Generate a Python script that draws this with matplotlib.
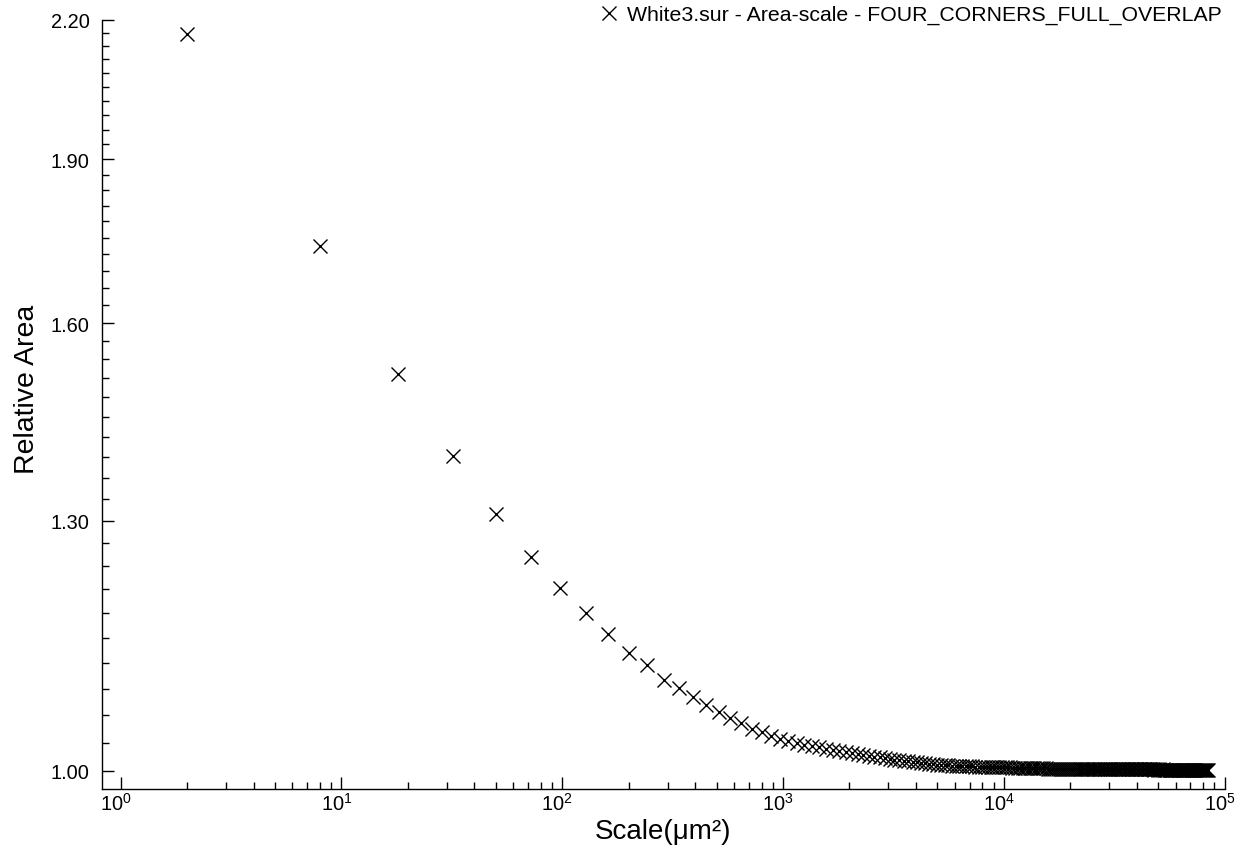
import matplotlib
matplotlib.use("Agg")
import matplotlib.pyplot as plt
from matplotlib.ticker import FixedLocator, FixedFormatter, NullFormatter
import matplotlib.transforms as mtransforms

plt.rcParams['font.family'] = ['Liberation Sans', 'DejaVu Sans']
plt.rcParams['mathtext.default'] = 'regular'

# ---------------- data ----------------
scale_um2 = [
    2, 8, 18, 32, 50, 72, 98, 128, 162, 200,
    242, 288, 338, 392, 450, 512, 578, 648, 722, 800,
    882, 968, 1058, 1152, 1250, 1352, 1458, 1568, 1682, 1800,
    1922, 2048, 2178, 2312, 2450, 2592, 2738, 2888, 3042, 3200,
    3362, 3528, 3698, 3872, 4050, 4232, 4418, 4608, 4802, 5000,
    5202, 5408, 5618, 5832, 6050, 6272, 6498, 6728, 6962, 7200,
    7442, 7688, 7938, 8192, 8450, 8712, 8978, 9248, 9522, 9800,
    10082, 10368, 10658, 10952, 11250, 11552, 11858, 12168, 12482, 12800,
    13122, 13448, 13778, 14112, 14450, 14792, 15138, 15488, 15842, 16200,
    16562, 16928, 17298, 17672, 18050, 18432, 18818, 19208, 19602, 20000,
    20402, 20808, 21218, 21632, 22050, 22472, 22898, 23328, 23762, 24200,
    24642, 25088, 25538, 25992, 26450, 26912, 27378, 27848, 28322, 28800,
    29282, 29768, 30258, 30752, 31250, 31752, 32258, 32768, 33282, 33800,
    34322, 34848, 35378, 35912, 36450, 36992, 37538, 38088, 38642, 39200,
    39762, 40328, 40898, 41472, 42050, 42632, 43218, 43808, 44402, 45000,
    45602, 46208, 46818, 47432, 48050, 48672, 49298, 49928, 50562, 51200,
    51842, 52488, 53138, 53792, 54450, 55112, 55778, 56448, 57122, 57800,
    58482, 59168, 59858, 60552, 61250, 61952, 62658, 63368, 64082, 64800,
    65522, 66248, 66978, 67712, 68450, 69192, 69938, 70688, 71442, 72200,
    72962, 73728, 74498, 75272, 76050, 76832, 77618, 78408, 79202, 80000,
    80802, 81608, 82418, 83232, 84050,
]

relative_area = [
    2.168, 1.735, 1.517, 1.392, 1.310, 1.252, 1.212, 1.180, 1.154, 1.132,
    1.117, 1.100, 1.091, 1.081, 1.072, 1.064, 1.057, 1.051, 1.045, 1.041,
    1.037, 1.034, 1.0315, 1.0295, 1.0278, 1.0262, 1.0247, 1.0233, 1.0220, 1.0208,
    1.0197, 1.0186, 1.0176, 1.0166, 1.0157, 1.0148, 1.0140, 1.0132, 1.0124, 1.0117,
    1.0110, 1.0104, 1.0098, 1.0092, 1.0087, 1.0082, 1.0077, 1.0073, 1.0069, 1.0065,
    1.0062, 1.0059, 1.0056, 1.0054, 1.0052, 1.0050, 1.0049, 1.0047, 1.0046, 1.0045,
    1.0044, 1.0043, 1.0042, 1.0041, 1.0040, 1.0039, 1.0038, 1.0037, 1.0037, 1.0036,
    1.0035, 1.0034, 1.0034, 1.0033, 1.0033, 1.0032, 1.0031, 1.0031, 1.0030, 1.0030,
    1.0029, 1.0028, 1.0028, 1.0027, 1.0026, 1.0026, 1.0025, 1.0024, 1.0023, 1.0022,
    1.0022, 1.0021, 1.0021, 1.0020, 1.0020, 1.0020, 1.0019, 1.0021, 1.0020, 1.0020,
    1.0019, 1.0019, 1.0020, 1.0018, 1.0019, 1.0018, 1.0018, 1.0019, 1.0017, 1.0018,
    1.0018, 1.0017, 1.0018, 1.0017, 1.0017, 1.0018, 1.0016, 1.0017, 1.0017, 1.0016,
    1.0017, 1.0016, 1.0016, 1.0017, 1.0016, 1.0015, 1.0016, 1.0016, 1.0015, 1.0016,
    1.0015, 1.0015, 1.0016, 1.0015, 1.0014, 1.0015, 1.0015, 1.0014, 1.0015, 1.0014,
    1.0014, 1.0015, 1.0014, 1.0014, 1.0013, 1.0014, 1.0014, 1.0013, 1.0014, 1.0013,
    1.0013, 1.0014, 1.0013, 1.0013, 1.0012, 1.0013, 1.0013, 1.0012, 1.0013, 1.0012,
    1.0012, 1.0013, 1.0012, 1.0012, 1.0011, 1.0012, 1.0012, 1.0011, 1.0012, 1.0011,
    1.0011, 1.0012, 1.0011, 1.0011, 1.0010, 1.0011, 1.0011, 1.0010, 1.0011, 1.0010,
    1.0010, 1.0011, 1.0010, 1.0010, 1.0009, 1.0010, 1.0010, 1.0009, 1.0010, 1.0009,
    1.0009, 1.0010, 1.0009, 1.0009, 1.0008, 1.0009, 1.0009, 1.0008, 1.0009, 1.0008,
    1.0008, 1.0009, 1.0008, 1.0008, 1.0008,
]

series_label = "White3.sur - Area-scale - FOUR_CORNERS_FULL_OVERLAP"
x_label = "Scale(μm²)"
y_label = "Relative Area"

x_major_ticks = [1, 10, 100, 1000, 10000, 100000]
x_major_labels = [r'$10^{0}$', r'$10^{1}$', r'$10^{2}$', r'$10^{3}$', r'$10^{4}$', r'$10^{5}$']
x_minor_mult = [2, 3, 4, 5, 6, 7, 8, 9]
y_major_ticks = [1.00, 1.30, 1.60, 1.90, 2.20]
y_major_labels = ['1.00', '1.30', '1.60', '1.90', '2.20']
y_minor_step = 0.03

# ---------------- figure ----------------
W, H = 1247, 854
fig = plt.figure(figsize=(W / 100, H / 100), dpi=100)
ax = fig.add_axes([102 / W, 1 - 790 / H, (1224.5 - 102) / W, (790 - 20.7) / H])

ax.plot(scale_um2, relative_area, linestyle='none', marker='x', markersize=9.4,
        markeredgewidth=1.0, color='black', label=series_label)

ax.set_xscale('log')
ax.set_yscale('log')
ax.set_xlim(0.823, 1e5)
ax.set_ylim(0.981, 2.20)

ax.xaxis.set_major_locator(FixedLocator(x_major_ticks))
ax.xaxis.set_major_formatter(FixedFormatter(x_major_labels))
x_minor = [m * d for d in x_major_ticks[:-1] for m in x_minor_mult]
ax.xaxis.set_minor_locator(FixedLocator(x_minor))
ax.xaxis.set_minor_formatter(NullFormatter())

ax.yaxis.set_major_locator(FixedLocator(y_major_ticks))
ax.yaxis.set_major_formatter(FixedFormatter(y_major_labels))
y_minor = []
for i in range(len(y_major_ticks) - 1):
    for j in range(1, 10):
        y_minor.append(round(y_major_ticks[i] + j * y_minor_step, 4))
ax.yaxis.set_minor_locator(FixedLocator(y_minor))
ax.yaxis.set_minor_formatter(NullFormatter())

for side in ('top', 'right'):
    ax.spines[side].set_visible(False)
for side in ('left', 'bottom'):
    ax.spines[side].set_linewidth(1.0)

ax.tick_params(axis='both', which='major', direction='in', length=8.6, width=1.0,
               labelsize=14.4, colors='black')
ax.tick_params(axis='both', which='minor', direction='in', length=4.7, width=1.0)
ax.tick_params(axis='y', which='major', pad=9)
ax.tick_params(axis='x', which='major', pad=2)

offset = mtransforms.ScaledTranslation(-5 / 100, 0, fig.dpi_scale_trans)
for lab in ax.get_xticklabels():
    lab.set_transform(lab.get_transform() + offset)

ax.set_xlabel(x_label, fontsize=20)
ax.set_ylabel(y_label, fontsize=20.5)
ax.xaxis.set_label_coords(0.5, -0.038)
ax.xaxis.label.set_va('top')
ax.yaxis.set_label_coords(-0.055, 0.521)

ax.legend(loc='upper right', bbox_to_anchor=(1222 / W, 1 - 6 / H),
          bbox_transform=fig.transFigure, frameon=False, fontsize=15.3,
          numpoints=1, handlelength=0.9, handletextpad=0.4, borderpad=0,
          borderaxespad=0)

fig.savefig('out.png', dpi=100)
